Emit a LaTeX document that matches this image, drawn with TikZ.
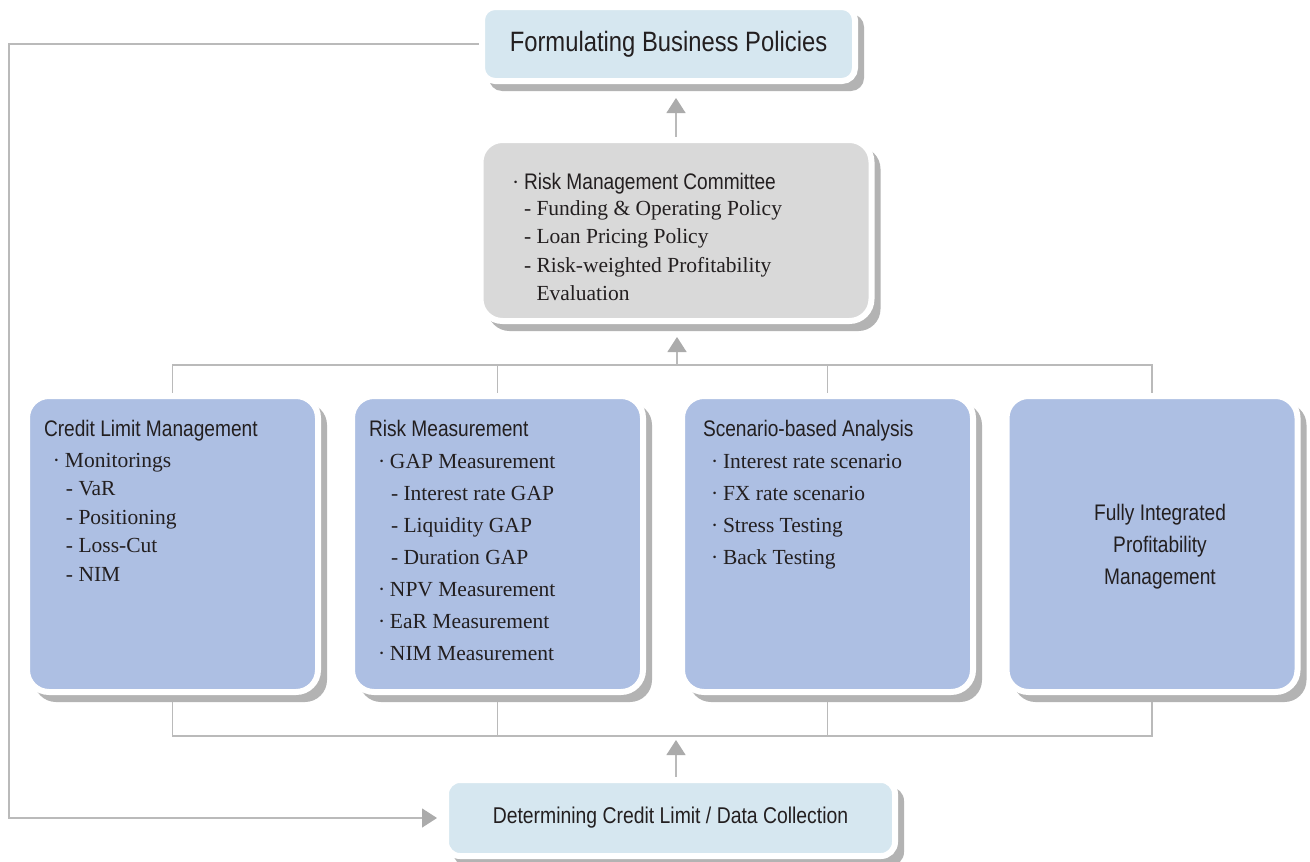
\documentclass[tikz,border=0pt]{standalone}
\usepackage{fontspec}
\setmainfont{Liberation Serif}
\newfontfamily\hdfont[FakeStretch=0.85]{Liberation Sans}
\usetikzlibrary{arrows.meta,calc}

\definecolor{inkc}{HTML}{231F20}
\definecolor{topfill}{HTML}{D6E7F0}
\definecolor{comfill}{HTML}{D9D9D9}
\definecolor{boxfill}{HTML}{ADBFE3}
\definecolor{shadec}{HTML}{B3B3B3}
\definecolor{linec}{HTML}{BABABA}
\definecolor{arrowc}{HTML}{ABABAB}

\pgfdeclarelayer{bg}
\pgfsetlayers{bg,main}

% condensed sans heading with a given baseline skip
\newcommand\hdl[2]{{\hdfont\fontsize{22.5}{#1}\selectfont #2}}
% bullet of a list item
\newcommand\bul{\makebox[12pt][l]{·}}
% grey drop shadow below and right of a panel
\newcommand\dropshade[2]{%
  \fill[shadec, rounded corners=#2] ($(#1.north west)+(7,7)$) rectangle ($(#1.south east)+(9,10)$);}

\tikzset{
  panel/.style={rectangle, rounded corners=#1, draw=white, line width=6pt,
    inner sep=0pt, outer sep=0pt, text=inkc},
  linkc/.style={draw=linec, line width=1.3pt},
  arr/.style={linkc, -{Triangle[length=15pt,width=19pt,color=arrowc]}},
  txt/.style={anchor=north west, align=left, inner sep=0pt, outer sep=0pt, text=inkc},
}

\begin{document}
\begin{tikzpicture}[x=1pt,y=-1pt]
\useasboundingbox (0,0) rectangle (1310,862);

% panels
\node[panel=13, fill=topfill, minimum width=373, minimum height=74,
      font=\hdfont\fontsize{28}{34}\selectfont] (top) at (668.5,44) {Formulating Business Policies};
\node[panel=22, fill=comfill, minimum width=391, minimum height=181] (com) at (676,230.5) {};
\node[panel=22, fill=boxfill, minimum width=291, minimum height=296] (b1) at (172.5,544) {};
\node[panel=22, fill=boxfill, minimum width=291, minimum height=296] (b2) at (497.5,544) {};
\node[panel=22, fill=boxfill, minimum width=291, minimum height=296] (b3) at (827.5,544) {};
\node[panel=22, fill=boxfill, minimum width=291, minimum height=296] (b4) at (1152,544) {};
\node[panel=14, fill=topfill, minimum width=449, minimum height=76,
      font=\hdfont\fontsize{22.8}{28}\selectfont] (bot) at (670.5,818) {Determining Credit Limit / Data Collection};

% panel texts
\node[txt, font=\fontsize{21.5}{28.5}\selectfont] (tc) at (512,173) {%
  \bul\hdl{28.5}{Risk Management Committee}\\[-2.5pt]
  \hspace*{12pt}- Funding \& Operating Policy\\
  \hspace*{12pt}- Loan Pricing Policy\\
  \hspace*{12pt}- Risk-weighted Profitability\\
  \hspace*{24.5pt}Evaluation};

\node[txt, font=\fontsize{21.5}{28.5}\selectfont] (t1) at (44,420) {%
  \hdl{28.5}{Credit Limit Management}\\[2.5pt]
  \hspace*{9pt}\bul Monitorings\\
  \hspace*{22pt}- VaR\\
  \hspace*{22pt}- Positioning\\
  \hspace*{22pt}- Loss-Cut\\
  \hspace*{22pt}- NIM};

\node[txt, font=\fontsize{21.5}{32}\selectfont] (t2) at (369,420) {%
  \hdl{32}{Risk Measurement}\\
  \hspace*{9pt}\bul GAP Measurement\\
  \hspace*{22pt}- Interest rate GAP\\
  \hspace*{22pt}- Liquidity GAP\\
  \hspace*{22pt}- Duration GAP\\
  \hspace*{9pt}\bul NPV Measurement\\
  \hspace*{9pt}\bul EaR Measurement\\
  \hspace*{9pt}\bul NIM Measurement};

\node[txt, font=\fontsize{21.5}{32}\selectfont] (t3) at (703,420) {%
  \hdl{32}{Scenario-based Analysis}\\
  \hspace*{8pt}\bul Interest rate scenario\\
  \hspace*{8pt}\bul FX rate scenario\\
  \hspace*{8pt}\bul Stress Testing\\
  \hspace*{8pt}\bul Back Testing};

\node[align=center, inner sep=0pt, text=inkc, font=\hdfont\fontsize{22.5}{32}\selectfont]
  (t4) at (1160,547) {Fully Integrated\\Profitability\\Management};

% connectors and shadows, behind the panels
\begin{pgfonlayer}{bg}
  \fill[white] (0,0) rectangle (1310,862);

  \coordinate (bt) at (0,365);
  \coordinate (bb) at (0,736);
  \draw[linkc] (b1.north) -- (b1.north |- bt) -- (b4.north |- bt) -- (b4.north);
  \draw[linkc] (b2.north) -- (b2.north |- bt);
  \draw[linkc] (b3.north) -- (b3.north |- bt);
  \draw[linkc] (b1.south) -- (b1.south |- bb) -- (b4.south |- bb) -- (b4.south);
  \draw[linkc] (b2.south) -- (b2.south |- bb);
  \draw[linkc] (b3.south) -- (b3.south |- bb);

  \coordinate (tipA) at (676,98);
  \draw[arr] (com.north -| tipA) -- (tipA);
  \coordinate (tipB) at (677,337);
  \draw[arr] (tipB |- bt) -- (tipB);
  \coordinate (tipC) at (676,740);
  \draw[arr] (bot.north -| tipC) -- (tipC);

  \coordinate (fbx) at (9,0);
  \coordinate (fbend) at ($(bot.west)+(-9,0)$);
  \draw[arr] (top.west) -- (top.west -| fbx) -- (fbx |- bot.west) -- (fbend);

  \dropshade{top}{13}
  \dropshade{com}{22}
  \dropshade{b1}{22}
  \dropshade{b2}{22}
  \dropshade{b3}{22}
  \dropshade{b4}{22}
  \dropshade{bot}{14}
\end{pgfonlayer}
\end{tikzpicture}
\end{document}
